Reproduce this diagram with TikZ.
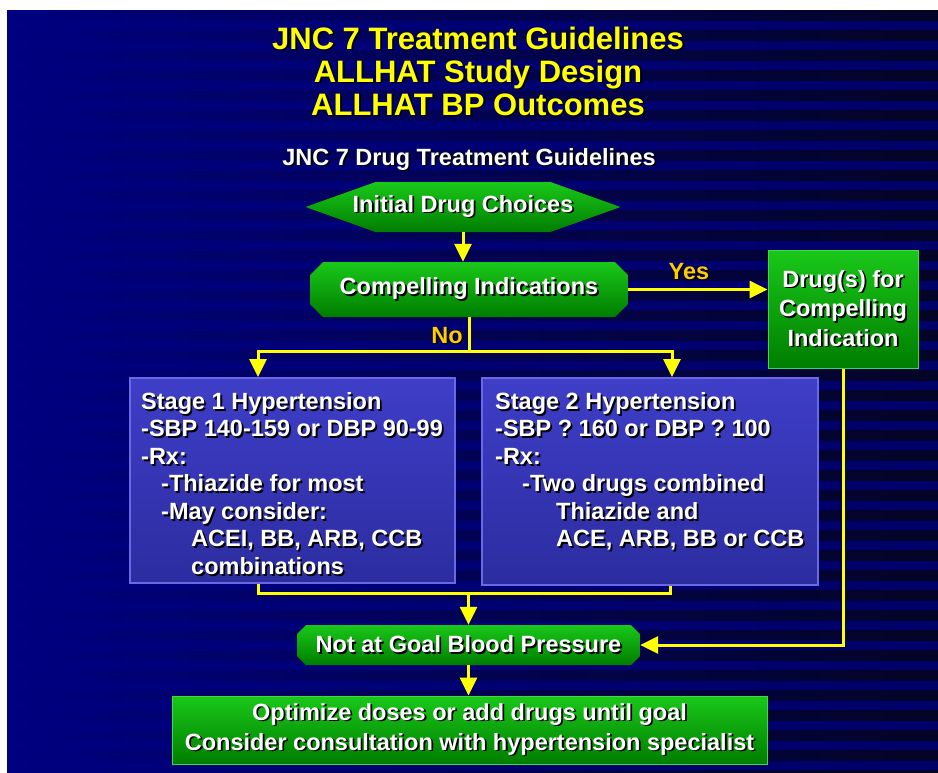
\documentclass[tikz,border=0pt]{standalone}
\usepackage{fontspec}
\setmainfont{Liberation Sans}
\usetikzlibrary{arrows.meta}
\definecolor{slideblue}{RGB}{0,0,128}
\definecolor{slideright}{RGB}{0,0,105}
\definecolor{stripedark}{RGB}{4,4,38}
\definecolor{titleyellow}{RGB}{255,255,0}
\definecolor{answerorange}{RGB}{255,204,0}
\definecolor{grnhi}{RGB}{25,200,25}
\definecolor{grnlo}{RGB}{0,125,0}
\definecolor{grnedge}{RGB}{70,215,70}
\definecolor{stagehi}{RGB}{62,62,200}
\definecolor{stagelo}{RGB}{44,44,160}
\definecolor{stageedge}{RGB}{105,105,230}
\newcommand\shd[1]{\leavevmode\rlap{\kern1.8pt\raisebox{-1.8pt}{\color{black}#1}}#1}
\tikzset{
  bigfont/.style={font=\fontsize{31}{33}\selectfont\bfseries},
  flowfont/.style={font=\fontsize{23.5}{27.5}\selectfont\bfseries},
  titletxt/.style={bigfont,text=titleyellow,align=center,inner sep=0pt},
  flowtxt/.style={flowfont,text=white,inner sep=0pt},
  answer/.style={flowfont,text=answerorange,inner sep=0pt},
  greenfill/.style={top color=grnhi,bottom color=grnlo},
  % pointed ends left and right
  hexbox/.style={rectangle,flowtxt,path picture={
    \fill[greenfill] (path picture bounding box.west)
      -- ([xshift=#1]path picture bounding box.north west)
      -- ([xshift=-#1]path picture bounding box.north east)
      -- (path picture bounding box.east)
      -- ([xshift=-#1]path picture bounding box.south east)
      -- ([xshift=#1]path picture bounding box.south west) -- cycle;}},
  % cut corners
  chambox/.style={rectangle,flowtxt,path picture={
    \fill[greenfill] ([yshift=-#1]path picture bounding box.north west)
      -- ([xshift=#1]path picture bounding box.north west)
      -- ([xshift=-#1]path picture bounding box.north east)
      -- ([yshift=-#1]path picture bounding box.north east)
      -- ([yshift=#1]path picture bounding box.south east)
      -- ([xshift=-#1]path picture bounding box.south east)
      -- ([xshift=#1]path picture bounding box.south west)
      -- ([yshift=#1]path picture bounding box.south west) -- cycle;}},
  greenbox/.style={rectangle,greenfill,draw=grnedge,line width=1pt,flowtxt,align=center},
  stagebox/.style={rectangle,top color=stagehi,bottom color=stagelo,draw=stageedge,line width=2pt},
  yline/.style={draw=titleyellow,line width=3pt},
  flow/.style={yline,-{Triangle[width=17pt,length=18pt]}}
}
\begin{document}
\begin{tikzpicture}[x=1pt,y=-1pt]
  \useasboundingbox (0,0) rectangle (938,772);
  \fill[white] (0,0) rectangle (938,772);
  % slide background with stripes
  \shade[left color=slideblue,right color=slideright] (7,10) rectangle (938,772);
  \foreach \y in {10,30,...,770}
    \shade[left color=slideblue,right color=stripedark] (7,\y) rectangle (938,\y+10);

  % titles
  \node[titletxt] (title) at (478,72)
    {\shd{JNC 7 Treatment Guidelines}\\\shd{ALLHAT Study Design}\\\shd{ALLHAT BP Outcomes}};
  \node[flowtxt] (sub) at (469,160) {\shd{JNC 7 Drug Treatment Guidelines}};

  % flow boxes
  \node[hexbox=70pt,minimum width=315pt,minimum height=50pt]
    (init) at (463,207) {\shd{Initial Drug Choices}};
  \node[chambox=13pt,minimum width=318pt,minimum height=55pt]
    (comp) at (469,289.5) {\shd{Compelling Indications}};
  \node[greenbox,minimum width=150pt,minimum height=118pt] (drug) at (843,309)
    {\shd{Drug(s) for}\\[2pt]\shd{Compelling}\\[2pt]\shd{Indication}};

  \node[stagebox,minimum width=325pt,minimum height=205pt] (st1) at (292.5,480.5) {};
  \node[stagebox,minimum width=336pt,minimum height=207pt] (st2) at (650,481.5) {};
  \node[flowtxt,align=left,anchor=north west] (st1txt) at ([xshift=12pt,yshift=-15pt]st1.north west)
    {\shd{Stage 1 Hypertension}\\
     \shd{-SBP 140-159 or DBP 90-99}\\
     \shd{-Rx:}\\
     \hspace*{20pt}\shd{-Thiazide for most}\\
     \hspace*{20pt}\shd{-May consider:}\\
     \hspace*{50pt}\shd{ACEI, BB, ARB, CCB}\\
     \hspace*{50pt}\shd{combinations}};
  \node[flowtxt,align=left,anchor=north west] (st2txt) at ([xshift=14pt,yshift=-15pt]st2.north west)
    {\shd{Stage 2 Hypertension}\\
     \shd{-SBP ? 160 or DBP ? 100}\\
     \shd{-Rx:}\\
     \hspace*{27pt}\shd{-Two drugs combined}\\
     \hspace*{61pt}\shd{Thiazide and}\\
     \hspace*{61pt}\shd{ACE, ARB, BB or CCB}};

  \node[chambox=9pt,minimum width=343pt,minimum height=40pt]
    (goal) at (468.5,645) {\shd{Not at Goal Blood Pressure}};
  \node[greenbox,minimum width=595pt,minimum height=68pt] (opt) at (469.5,730)
    {\shd{Optimize doses or add drugs until goal}\\[2.5pt]\shd{Consider consultation with hypertension specialist}};

  % connectors
  \coordinate (nl) at (258,351);
  \coordinate (nr) at (672,351);
  \coordinate (bl) at (258,593);
  \coordinate (br) at (670,593);

  \draw[flow] (init.south) -- (init.south |- comp.north);
  \draw[flow] (comp.east) -- (comp.east -| drug.west);
  \node[answer] (yes) at (689,272) {\shd{Yes}};
  \draw[flow] (comp.south) |- (nl) -- (nl |- st1.north);
  \draw[flow] (comp.south) |- (nr) -- (nr |- st2.north);
  \node[answer] (no) at (447,336) {\shd{No}};
  \draw[yline] (st1.south -| bl) -- (bl) -- (br) -- (st2.south -| br);
  \draw[flow] (bl -| goal.north) -- (goal.north);
  \draw[flow] (drug.south) |- (goal.east);
  \draw[flow] (goal.south) -- (goal.south |- opt.north);
\end{tikzpicture}
\end{document}
